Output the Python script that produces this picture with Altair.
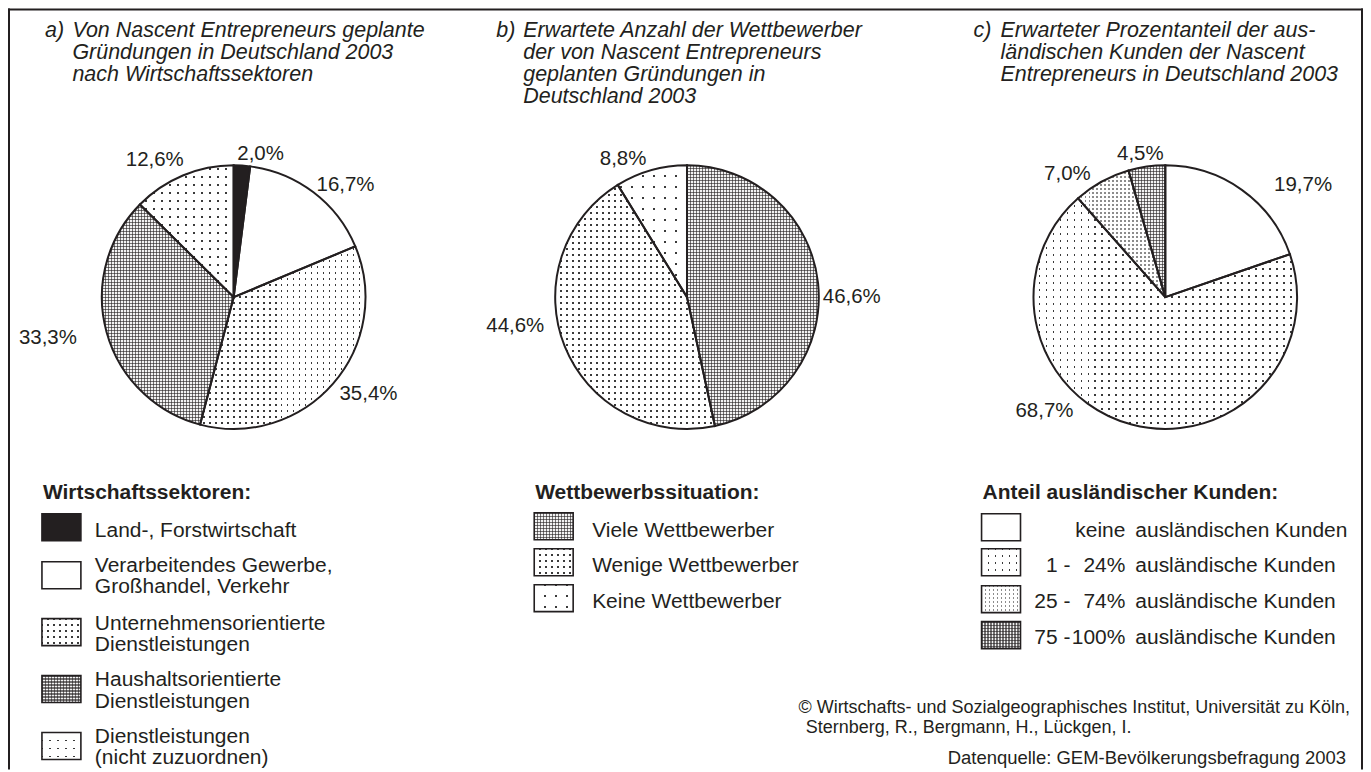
import math
import altair as alt
import pandas as pd

# ---------------- data ----------------
sector_names = ["Land-, Forstwirtschaft", "Verarbeitendes Gewerbe, Großhandel, Verkehr",
                "Unternehmensorientierte Dienstleistungen", "Haushaltsorientierte Dienstleistungen",
                "Dienstleistungen (nicht zuzuordnen)"]
sector_values = [2.0, 16.7, 35.4, 33.3, 12.6]

competition_names = ["Viele Wettbewerber", "Wenige Wettbewerber", "Keine Wettbewerber"]
competition_values = [46.6, 44.6, 8.8]

foreign_names = ["keine ausländischen Kunden", "1-24% ausländische Kunden",
                 "25-74% ausländische Kunden", "75-100% ausländische Kunden"]
foreign_values = [19.7, 68.7, 7.0, 4.5]

title_a = ["Von Nascent Entrepreneurs geplante", "Gründungen in Deutschland 2003", "nach Wirtschaftssektoren"]
title_b = ["Erwartete Anzahl der Wettbewerber", "der von Nascent Entrepreneurs",
           "geplanten Gründungen in", "Deutschland 2003"]
title_c = ["Erwarteter Prozentanteil der aus-", "ländischen Kunden der Nascent",
           "Entrepreneurs in Deutschland 2003"]

legend_a_title = "Wirtschaftssektoren:"
legend_a_lines = [["Land-, Forstwirtschaft"], ["Verarbeitendes Gewerbe,", "Großhandel, Verkehr"],
                  ["Unternehmensorientierte", "Dienstleistungen"], ["Haushaltsorientierte", "Dienstleistungen"],
                  ["Dienstleistungen", "(nicht zuzuordnen)"]]
legend_b_title = "Wettbewerbssituation:"
legend_b_lines = competition_names
legend_c_title = "Anteil ausländischer Kunden:"
legend_c_from = ["", "1 -", "25 -", "75 -"]
legend_c_to = ["keine", "24%", "74%", "100%"]
legend_c_text = ["ausländischen Kunden", "ausländische Kunden", "ausländische Kunden", "ausländische Kunden"]

credit_lines = ["© Wirtschafts- und Sozialgeographisches Institut, Universität zu Köln,",
                "Sternberg, R., Bergmann, H., Lückgen, I."]
source_line = "Datenquelle: GEM-Bevölkerungsbefragung 2003"

# ---------------- style / layout ----------------
DARK = "#231f20"
FONT = "Liberation Sans"
W, H = 1357, 762
R = 132

PAT = {
    "black": ("solid", DARK),
    "white": ("solid", "#ffffff"),
    "fine": ("dots", 6, 2, "#3a3a3a"),
    "sparse": ("dots", 8, 2, "#3a3a3a"),
    "sparse7": ("dots", 7, 2, "#3a3a3a"),
    "keine": ("dots", 11, 2, "#3a3a3a"),
    "medium": ("dots", 4, 2, "#8c8c8c"),
    "cross": ("grid", 3, 1, "#f2f2f2", "rgba(35,31,32,0.6)"),
}

pies = [
    dict(names=sector_names, values=sector_values, cx=226, cy=289,
         fills=["black", "white", "fine", "cross", "sparse"],
         labels=[(253, 144), (338, 175), (361, 385), (40, 329), (147, 150)]),
    dict(names=competition_names, values=competition_values, cx=680, cy=289,
         fills=["cross", "fine", "keine"],
         labels=[(845, 288), (508, 317), (616, 149)]),
    dict(names=foreign_names, values=foreign_values, cx=1159, cy=289,
         fills=["white", "sparse7", "medium", "cross"],
         labels=[(1297, 175), (1038, 402), (1061, 164), (1134, 144)]),
]

CLEAR = "rgba(255,255,255,0)"


def grad(axis, lo, hi, pitch, phase, width, band, bg):
    L = hi - lo
    kmin = math.floor((lo - phase) / pitch) - 1
    kmax = math.ceil((hi - phase) / pitch) + 1
    stops = [(0.0, bg)]
    for k in range(kmin, kmax + 1):
        c = phase + k * pitch
        a = (c - width / 2 - lo) / L
        b = (c + width / 2 - lo) / L
        if b <= 0 or a >= 1:
            continue
        a = max(a, 0.0)
        b = min(b, 1.0)
        stops += [(a, bg), (a, band), (b, band), (b, bg)]
    stops.append((1.0, bg))
    return {"gradient": "linear", "x1": 0, "y1": 0,
            "x2": 1 if axis == "x" else 0, "y2": 0 if axis == "x" else 1,
            "stops": [{"offset": round(o, 5), "color": col} for o, col in stops]}


def pattern_fills(key, x0, x1, y0, y1):
    pat = PAT[key]
    if pat[0] == "solid":
        return [pat[1]]
    if pat[0] == "dots":
        _, pitch, px, color = pat
        phase, wd = (0.0, 1.8) if px == 2 else (0.5, 1.2)
        return [color,
                grad("x", x0, x1, pitch, phase, wd, CLEAR, "#ffffff"),
                grad("y", y0, y1, pitch, phase, wd, CLEAR, "#ffffff")]
    _, pitch, px, base, line = pat
    phase, wd = (0.0, 1.8) if px == 2 else (0.5, 1.2)
    return [base,
            grad("x", x0, x1, pitch, phase, wd, line, CLEAR),
            grad("y", y0, y1, pitch, phase, wd, line, CLEAR)]


def arc_bbox(f0, f1, r):
    a0, a1 = 2 * math.pi * f0, 2 * math.pi * f1
    pts = [(0.0, 0.0), (r * math.sin(a0), -r * math.cos(a0)), (r * math.sin(a1), -r * math.cos(a1))]
    for q in range(5):
        a = q * math.pi / 2
        if a0 < a < a1:
            pts.append((r * math.sin(a), -r * math.cos(a)))
    xs = [p[0] for p in pts]
    ys = [p[1] for p in pts]
    return min(xs), max(xs), min(ys), max(ys)


THETA = alt.Scale(domain=[0, 1], range=[0, 2 * math.pi])
layers = []

# ---------------- pies ----------------
for pie in pies:
    df = pd.DataFrame({"name": pie["names"], "value": pie["values"], "order": list(range(len(pie["values"])))})
    src = (alt.Chart(df)
           .transform_joinaggregate(total="sum(value)")
           .transform_window(cum="sum(value)", sort=[alt.SortField("order")], frame=[None, 0])
           .transform_calculate(t0="(datum.cum - datum.value) / datum.total", t1="datum.cum / datum.total"))
    enc = dict(theta=alt.Theta("t0:Q", scale=THETA), theta2=alt.Theta2("t1:Q"),
               x=alt.value(pie["cx"]), y=alt.value(pie["cy"]))
    total = sum(pie["values"])
    cum = 0.0
    for i, v in enumerate(pie["values"]):
        f0, f1 = cum / total, (cum + v) / total
        cum += v
        bx0, bx1, by0, by1 = arc_bbox(f0, f1, R)
        for fill in pattern_fills(pie["fills"][i], bx0, bx1, by0, by1):
            layers.append(src.transform_filter(alt.datum.order == i)
                          .mark_arc(outerRadius=R, fill=fill).encode(**enc))
    layers.append(src.mark_arc(outerRadius=R, fill="#ffffff", fillOpacity=0, stroke=DARK,
                               strokeWidth=2).encode(**enc))
    # percentage labels
    for i, v in enumerate(pie["values"]):
        lx, ly = pie["labels"][i]
        txt = f"{v:.1f}".replace(".", ",") + "%"
        layers.append(alt.Chart().mark_text(font=FONT, fontSize=20.5, color=DARK, align="center",
                                            baseline="alphabetic")
                      .encode(x=alt.value(lx), y=alt.value(ly + 7.3), text=alt.value(txt)))


# ---------------- helpers for text ----------------
def text(x, y, t, size=21, align="left", style="normal", weight="normal", lh=21.5):
    return (alt.Chart().mark_text(font=FONT, fontSize=size, color=DARK, align=align, baseline="alphabetic",
                                  fontStyle=style, fontWeight=weight, lineHeight=lh)
            .encode(x=alt.value(x), y=alt.value(y), text=alt.value(t)))


def swatch(x, y, key, w=39, h=27):
    out = []
    for fill in pattern_fills(key, 0, w, 0, h):
        out.append(alt.Chart().mark_rect(fill=fill).encode(
            x=alt.value(x), x2=alt.value(x + w), y=alt.value(y), y2=alt.value(y + h)))
    out.append(alt.Chart().mark_rect(fill="#ffffff", fillOpacity=0, stroke=DARK, strokeWidth=1.6).encode(
        x=alt.value(x), x2=alt.value(x + w), y=alt.value(y), y2=alt.value(y + h)))
    return out


# ---------------- titles ----------------
for lab, lx, tx, lines in [("a)", 37, 64.5, title_a), ("b)", 489, 516, title_b), ("c)", 967, 994, title_c)]:
    layers.append(text(lx, 28, lab, size=21.5, style="italic", lh=22.3))
    layers.append(text(tx, 28, lines, size=21.5, style="italic", lh=22.3))

# ---------------- legend a ----------------
layers.append(text(35, 491.5, legend_a_title, weight="bold"))
for key, y0, lines, by in zip(pies[0]["fills"], [506, 554, 611, 668, 725], legend_a_lines,
                              [529.3, 564.3, 622, 678.7, 735.3]):
    layers += swatch(34, y0, key)
    layers.append(text(87, by, lines))

# ---------------- legend b ----------------
layers.append(text(528, 491.5, legend_b_title, weight="bold"))
for key, y0, line, by in zip(pies[1]["fills"], [505, 541, 577], legend_b_lines, [529.3, 564.7, 600]):
    layers += swatch(527, y0, key)
    layers.append(text(585, by, line))

# ---------------- legend c ----------------
layers.append(text(976, 491.5, legend_c_title, weight="bold"))
for key, y0, a, b, c, by in zip(pies[2]["fills"], [506, 541, 578, 614], legend_c_from, legend_c_to,
                                legend_c_text, [529.3, 564.7, 600.3, 636]):
    layers += swatch(975, y0, key)
    if a:
        layers.append(text(1064, by, a, align="right"))
    layers.append(text(1119, by, b, align="right"))
    layers.append(text(1129, by, c))

# ---------------- credits ----------------
layers.append(text(1344, 705.5, credit_lines[0], size=18, align="right"))
layers.append(text(799, 725.5, credit_lines[1], size=18))
layers.append(text(1340, 757, source_line, size=18.5, align="right"))

# ---------------- frame ----------------
layers.append(alt.Chart().mark_rule(color=DARK, strokeWidth=2).encode(
    x=alt.value(1), y=alt.value(0), y2=alt.value(H)))
layers.append(alt.Chart().mark_rule(color=DARK, strokeWidth=2).encode(
    x=alt.value(0), x2=alt.value(W), y=alt.value(1)))
layers.append(alt.Chart().mark_rule(color=DARK, strokeWidth=2).encode(
    x=alt.value(W - 1), y=alt.value(0), y2=alt.value(H)))

chart = (alt.layer(*layers, data=pd.DataFrame({"k": [0]}))
         .properties(width=W, height=H, padding=0, autosize=alt.AutoSizeParams(type="none"),
                     background="#ffffff")
         .configure_view(strokeWidth=0))

chart.save("out.html", embed_options={"renderer": "svg", "actions": False})
